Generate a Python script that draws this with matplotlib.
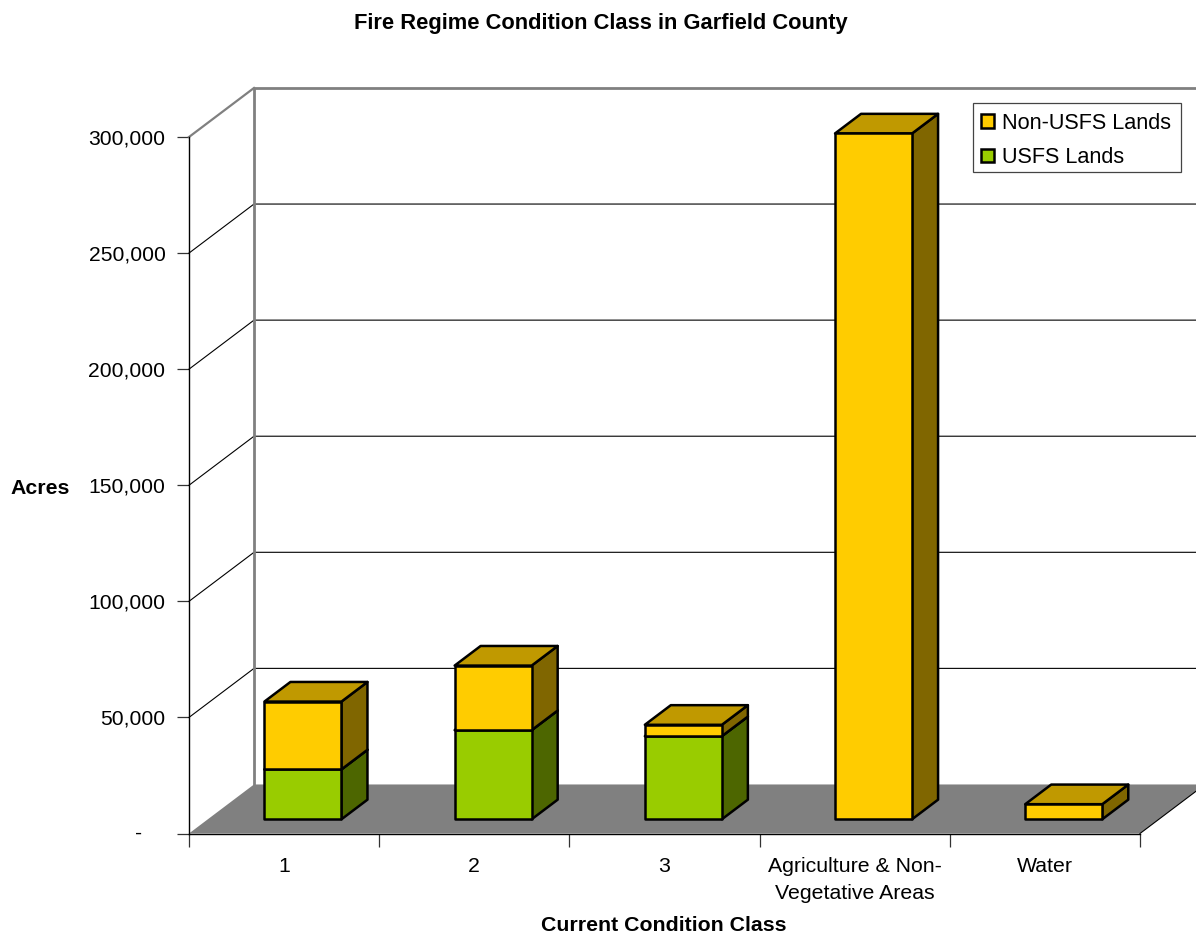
#!/usr/bin/env python3
"""Stacked pseudo-3D column chart of fire regime condition class acreage."""

import matplotlib
matplotlib.use("Agg")
import matplotlib.pyplot as plt
from matplotlib.patches import Patch, Rectangle

plt.rcParams["font.family"] = ["Liberation Sans", "DejaVu Sans"]

categories = ["1", "2", "3", "Agriculture & Non-\nVegetative Areas", "Water"]
usfs_lands = [21500, 38400, 35800, 0, 0]
non_usfs_lands = [29200, 27800, 4900, 295400, 6500]
y_ticks = [0, 50000, 100000, 150000, 200000, 250000, 300000]
y_labels = ["", "50,000", "100,000", "150,000", "200,000", "250,000", "300,000"]

YELLOW = ("#FFCC00", "#C09900", "#806600")  # front, top, side
GREEN = ("#99CC00", "#739900", "#4D6600")
WALL_GREY = "#808080"

# depth axis: one full unit of depth shifts this far in x and y data units
DEPTH_X = 65 / 190.2
DEPTH_Y = 49 / 116 * 50000
BAR_WIDTH = 0.405
BAR_FRONT = 0.29
BAR_DEPTH = 0.40


def shift(x, y, d):
    return x + d * DEPTH_X, y + d * DEPTH_Y


def draw_block(ax, x0, y0, y1, colors, zorder):
    """One stacked segment: side and top faces, then the front as a bar."""
    x1 = x0 + BAR_WIDTH
    edge = dict(edgecolor="black", linewidth=1.8, joinstyle="round",
                clip_on=False, zorder=zorder)
    side = [shift(x1, y0, 0), shift(x1, y0, BAR_DEPTH),
            shift(x1, y1, BAR_DEPTH), shift(x1, y1, 0)]
    top = [shift(x0, y1, 0), shift(x0, y1, BAR_DEPTH),
           shift(x1, y1, BAR_DEPTH), shift(x1, y1, 0)]
    ax.fill(*zip(*side), facecolor=colors[2], **edge)
    ax.fill(*zip(*top), facecolor=colors[1], **edge)
    ax.bar(x0, y1 - y0, BAR_WIDTH, bottom=y0, align="edge", color=colors[0], **edge)


fig = plt.figure(figsize=(11.96, 9.35), dpi=100)
ax = fig.add_axes([189 / 1196, 1 - 833.5 / 935, 951 / 1196, 696.5 / 935])
ax.set_xlim(0, 5)
ax.set_ylim(0, 300000)

# floor
floor = [shift(0, 0, 0), shift(0, 0, 1), shift(5, 0, 1), shift(5, 0, 0)]
ax.fill(*zip(*floor), facecolor=WALL_GREY, edgecolor="none", clip_on=False, zorder=1)
ax.plot(*zip(shift(5, 0, 0), shift(5, 0, 1)), color="black", lw=0.8, clip_on=False, zorder=2)

# gridlines run across the back wall and down the left side wall
for v in y_ticks[1:-1]:
    ax.plot(*zip(shift(0, v, 0), shift(0, v, 1), shift(5, v, 1)),
            color="black", lw=0.8, clip_on=False, zorder=2)
ax.plot(*zip(shift(0, 0, 1), shift(0, 300000, 1), shift(5, 300000, 1)),
        color=WALL_GREY, lw=2.0, clip_on=False, zorder=2)
ax.plot(*zip(shift(0, 300000, 0), shift(0, 300000, 1)),
        color=WALL_GREY, lw=1.6, clip_on=False, zorder=3)

# columns, USFS at the bottom of each stack
base = BAR_FRONT * DEPTH_Y
for i, (low, high) in enumerate(zip(usfs_lands, non_usfs_lands)):
    x0 = i + 0.5 + BAR_FRONT * DEPTH_X - BAR_WIDTH / 2
    z = 5 + i
    if low > 0:
        draw_block(ax, x0, base, base + low, GREEN, z)
    draw_block(ax, x0, base + low, base + low + high, YELLOW, z + 0.5)

for name in ("top", "right"):
    ax.spines[name].set_visible(False)
ax.spines["left"].set_linewidth(1.0)
ax.spines["bottom"].set_linewidth(1.0)
ax.spines["left"].set_zorder(4)
ax.spines["bottom"].set_zorder(4)

ax.set_yticks(y_ticks, y_labels)
ax.tick_params(axis="y", length=9, width=0.9, color="#333333", labelsize=15.2, pad=8)
ax.get_yticklines()[-2].set_color(WALL_GREY)
ax.annotate("-", xy=(0, 0), xytext=(-50, 0), textcoords="offset pixels",
            ha="center", va="center", fontsize=15.2, annotation_clip=False)

ax.set_xticks(range(6), [""] * 6)
ax.tick_params(axis="x", which="major", length=9, width=0.9, color="#333333")
ax.set_xticks([i + 0.5 for i in range(5)], categories, minor=True)
ax.tick_params(axis="x", which="minor", length=0, labelsize=15.3, pad=17)
for label in ax.get_xticklabels(minor=True):
    label.set_linespacing(1.55)
    label.set_color("black")

ax.set_ylabel("Acres", rotation=0, fontsize=15.3, fontweight="bold", ha="center", va="center")
ax.yaxis.set_label_coords(-0.1567, 0.496)
ax.set_xlabel("Current Condition Class", fontsize=15.3, fontweight="bold", va="center")
ax.xaxis.set_label_coords(0.4995, -0.1316)
fig.suptitle("Fire Regime Condition Class in Garfield County",
             x=601 / 1196, y=1 - 24 / 935, fontsize=15.75, fontweight="bold", va="center")

# legend box is its own patch so its bottom padding can stay tight under the text
ax.add_patch(Rectangle((972.5 / 1196, 1 - 172 / 935), 208.5 / 1196, 69 / 935,
                       transform=fig.transFigure, facecolor="white", edgecolor="#444444",
                       linewidth=0.9, clip_on=False, zorder=19))
handles = [Patch(facecolor=YELLOW[0], edgecolor="black", linewidth=1.8),
           Patch(facecolor=GREEN[0], edgecolor="black", linewidth=1.8)]
legend = ax.legend(handles, ["Non-USFS Lands", "USFS Lands"], loc="upper right",
                   bbox_to_anchor=(1181 / 1196, 1 - 103 / 935),
                   bbox_transform=fig.transFigure, borderaxespad=0, fontsize=15.6,
                   frameon=False, handlelength=0.6, handleheight=0.6, handletextpad=0.4,
                   labelspacing=0.62, borderpad=0.45)
legend.set_zorder(20)

fig.savefig("out.png", dpi=100, facecolor="white")
